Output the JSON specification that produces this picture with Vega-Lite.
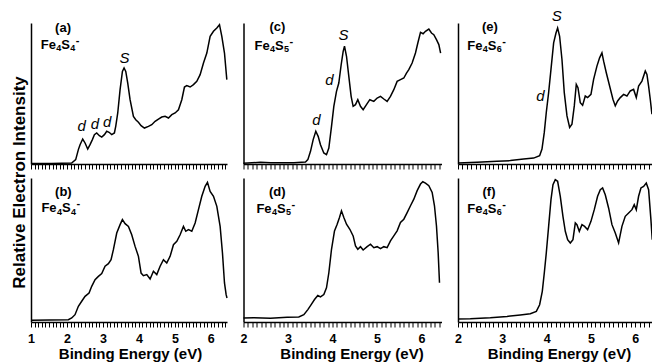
{
  "$schema": "https://vega.github.io/schema/vega-lite/v6.json",
  "padding": {"left": 10, "top": 9, "right": 0, "bottom": 0},
  "config": {
    "view": {"stroke": null},
    "font": "Liberation Sans",
    "axis": {
      "grid": false,
      "domainColor": "black",
      "domainWidth": 1.5,
      "tickColor": "black",
      "tickWidth": 1,
      "tickSize": 5,
      "labelColor": "black",
      "titleColor": "black",
      "labelFont": "Liberation Sans",
      "titleFont": "Liberation Sans",
      "labelFontWeight": "bold",
      "titleFontWeight": "bold",
      "labelFontSize": 12.5,
      "titleFontSize": 15
    },
    "axisX": {
      "ticks": true,
      "labelOverlap": false,
      "labelFlush": false,
      "labelPadding": 5,
      "titlePadding": 2,
      "encoding": {"ticks": {"y2": {"signal": "abs(datum.value - round(datum.value)) < 0.01 ? 5 : 3"}}}
    },
    "line": {"color": "black", "strokeWidth": 1.5},
    "text": {"color": "black"}
  },
  "bounds": "flush",
  "align": "each",
  "columns": 3,
  "spacing": {"row": 14, "column": 16.5},
  "datasets": {
    "a": [
      {"e":1.0,"i":0.004},{"e":1.575,"i":0.004},{"e":2.13,"i":0.007},{"e":2.243,"i":0.031},{"e":2.317,"i":0.102},{"e":2.364,"i":0.137},{"e":2.438,"i":0.177},{"e":2.503,"i":0.149},{"e":2.577,"i":0.106},{"e":2.642,"i":0.137},{"e":2.707,"i":0.173},{"e":2.763,"i":0.208},{"e":2.827,"i":0.22},{"e":2.902,"i":0.201},{"e":2.967,"i":0.191},{"e":3.041,"i":0.208},{"e":3.106,"i":0.232},{"e":3.171,"i":0.225},{"e":3.245,"i":0.208},{"e":3.319,"i":0.22},{"e":3.356,"i":0.267},{"e":3.412,"i":0.362},{"e":3.477,"i":0.527},{"e":3.542,"i":0.657},{"e":3.588,"i":0.681},{"e":3.635,"i":0.657},{"e":3.69,"i":0.574},{"e":3.755,"i":0.456},{"e":3.848,"i":0.338},{"e":3.913,"i":0.314},{"e":3.987,"i":0.296},{"e":4.061,"i":0.272},{"e":4.154,"i":0.255},{"e":4.265,"i":0.267},{"e":4.358,"i":0.279},{"e":4.451,"i":0.303},{"e":4.544,"i":0.319},{"e":4.636,"i":0.333},{"e":4.729,"i":0.338},{"e":4.822,"i":0.326},{"e":4.915,"i":0.35},{"e":5.007,"i":0.362},{"e":5.1,"i":0.385},{"e":5.193,"i":0.456},{"e":5.267,"i":0.546},{"e":5.332,"i":0.556},{"e":5.425,"i":0.546},{"e":5.518,"i":0.563},{"e":5.61,"i":0.586},{"e":5.703,"i":0.634},{"e":5.796,"i":0.716},{"e":5.889,"i":0.787},{"e":5.981,"i":0.905},{"e":6.074,"i":0.941},{"e":6.167,"i":0.965},{"e":6.241,"i":0.988},{"e":6.306,"i":0.905},{"e":6.38,"i":0.787},{"e":6.445,"i":0.598}
    ],
    "b": [
      {"e":1.0,"i":0.012},{"e":2.039,"i":0.016},{"e":2.132,"i":0.028},{"e":2.224,"i":0.051},{"e":2.317,"i":0.109},{"e":2.41,"i":0.144},{"e":2.503,"i":0.178},{"e":2.614,"i":0.201},{"e":2.688,"i":0.248},{"e":2.781,"i":0.294},{"e":2.874,"i":0.317},{"e":2.967,"i":0.336},{"e":3.059,"i":0.387},{"e":3.152,"i":0.405},{"e":3.226,"i":0.433},{"e":3.291,"i":0.502},{"e":3.384,"i":0.618},{"e":3.477,"i":0.676},{"e":3.542,"i":0.711},{"e":3.616,"i":0.683},{"e":3.709,"i":0.664},{"e":3.801,"i":0.606},{"e":3.894,"i":0.525},{"e":3.987,"i":0.456},{"e":4.061,"i":0.34},{"e":4.126,"i":0.322},{"e":4.219,"i":0.329},{"e":4.312,"i":0.299},{"e":4.404,"i":0.352},{"e":4.497,"i":0.329},{"e":4.59,"i":0.387},{"e":4.683,"i":0.433},{"e":4.775,"i":0.41},{"e":4.868,"i":0.456},{"e":4.961,"i":0.537},{"e":5.054,"i":0.56},{"e":5.146,"i":0.606},{"e":5.239,"i":0.664},{"e":5.304,"i":0.63},{"e":5.378,"i":0.641},{"e":5.471,"i":0.63},{"e":5.564,"i":0.688},{"e":5.656,"i":0.78},{"e":5.749,"i":0.873},{"e":5.842,"i":0.942},{"e":5.907,"i":0.97},{"e":5.981,"i":0.907},{"e":6.074,"i":0.873},{"e":6.167,"i":0.803},{"e":6.259,"i":0.664},{"e":6.324,"i":0.479},{"e":6.38,"i":0.271},{"e":6.426,"i":0.19},{"e":6.45,"i":0.167}
    ],
    "c": [
      {"e":2.0,"i":0.005},{"e":2.382,"i":0.012},{"e":2.607,"i":0.009},{"e":2.831,"i":0.009},{"e":3.131,"i":0.009},{"e":3.393,"i":0.014},{"e":3.446,"i":0.031},{"e":3.506,"i":0.09},{"e":3.566,"i":0.173},{"e":3.625,"i":0.232},{"e":3.678,"i":0.196},{"e":3.73,"i":0.137},{"e":3.805,"i":0.078},{"e":3.865,"i":0.066},{"e":3.918,"i":0.113},{"e":3.978,"i":0.267},{"e":4.03,"i":0.409},{"e":4.09,"i":0.515},{"e":4.142,"i":0.574},{"e":4.195,"i":0.704},{"e":4.24,"i":0.799},{"e":4.27,"i":0.835},{"e":4.315,"i":0.764},{"e":4.367,"i":0.622},{"e":4.419,"i":0.48},{"e":4.464,"i":0.409},{"e":4.517,"i":0.421},{"e":4.569,"i":0.456},{"e":4.629,"i":0.409},{"e":4.689,"i":0.385},{"e":4.764,"i":0.421},{"e":4.839,"i":0.456},{"e":4.929,"i":0.444},{"e":5.004,"i":0.468},{"e":5.079,"i":0.48},{"e":5.154,"i":0.461},{"e":5.228,"i":0.444},{"e":5.303,"i":0.48},{"e":5.378,"i":0.527},{"e":5.453,"i":0.586},{"e":5.528,"i":0.598},{"e":5.603,"i":0.61},{"e":5.663,"i":0.645},{"e":5.715,"i":0.669},{"e":5.79,"i":0.716},{"e":5.865,"i":0.787},{"e":5.918,"i":0.858},{"e":5.978,"i":0.934},{"e":6.037,"i":0.924},{"e":6.09,"i":0.941},{"e":6.165,"i":0.957},{"e":6.225,"i":0.929},{"e":6.277,"i":0.917},{"e":6.337,"i":0.882},{"e":6.39,"i":0.847},{"e":6.43,"i":0.787}
    ],
    "d": [
      {"e":2.0,"i":0.028},{"e":2.232,"i":0.03},{"e":2.607,"i":0.026},{"e":2.981,"i":0.033},{"e":3.243,"i":0.035},{"e":3.356,"i":0.051},{"e":3.446,"i":0.086},{"e":3.521,"i":0.121},{"e":3.596,"i":0.156},{"e":3.67,"i":0.184},{"e":3.73,"i":0.174},{"e":3.805,"i":0.191},{"e":3.865,"i":0.237},{"e":3.918,"i":0.342},{"e":3.978,"i":0.505},{"e":4.045,"i":0.633},{"e":4.105,"i":0.679},{"e":4.157,"i":0.726},{"e":4.202,"i":0.772},{"e":4.255,"i":0.726},{"e":4.315,"i":0.679},{"e":4.39,"i":0.644},{"e":4.464,"i":0.598},{"e":4.517,"i":0.528},{"e":4.569,"i":0.505},{"e":4.629,"i":0.523},{"e":4.689,"i":0.5},{"e":4.779,"i":0.523},{"e":4.854,"i":0.54},{"e":4.929,"i":0.516},{"e":5.004,"i":0.523},{"e":5.079,"i":0.509},{"e":5.154,"i":0.523},{"e":5.228,"i":0.516},{"e":5.303,"i":0.563},{"e":5.378,"i":0.598},{"e":5.453,"i":0.633},{"e":5.528,"i":0.691},{"e":5.603,"i":0.714},{"e":5.678,"i":0.76},{"e":5.753,"i":0.807},{"e":5.828,"i":0.853},{"e":5.903,"i":0.912},{"e":5.978,"i":0.958},{"e":6.03,"i":0.974},{"e":6.09,"i":0.965},{"e":6.165,"i":0.947},{"e":6.24,"i":0.9},{"e":6.292,"i":0.807},{"e":6.337,"i":0.667},{"e":6.375,"i":0.481},{"e":6.405,"i":0.272}
    ],
    "e": [
      {"e":2.0,"i":0.007},{"e":2.429,"i":0.012},{"e":2.88,"i":0.019},{"e":3.18,"i":0.024},{"e":3.481,"i":0.035},{"e":3.707,"i":0.042},{"e":3.842,"i":0.059},{"e":3.895,"i":0.106},{"e":3.947,"i":0.224},{"e":3.992,"i":0.365},{"e":4.045,"i":0.506},{"e":4.098,"i":0.671},{"e":4.158,"i":0.859},{"e":4.211,"i":0.929},{"e":4.248,"i":0.965},{"e":4.293,"i":0.906},{"e":4.346,"i":0.741},{"e":4.398,"i":0.506},{"e":4.459,"i":0.341},{"e":4.519,"i":0.259},{"e":4.571,"i":0.282},{"e":4.624,"i":0.412},{"e":4.669,"i":0.565},{"e":4.707,"i":0.541},{"e":4.759,"i":0.435},{"e":4.812,"i":0.416},{"e":4.872,"i":0.482},{"e":4.925,"i":0.471},{"e":5.0,"i":0.494},{"e":5.06,"i":0.6},{"e":5.135,"i":0.694},{"e":5.195,"i":0.753},{"e":5.248,"i":0.788},{"e":5.286,"i":0.729},{"e":5.346,"i":0.647},{"e":5.421,"i":0.553},{"e":5.496,"i":0.459},{"e":5.549,"i":0.412},{"e":5.602,"i":0.447},{"e":5.662,"i":0.471},{"e":5.737,"i":0.494},{"e":5.812,"i":0.482},{"e":5.887,"i":0.518},{"e":5.962,"i":0.529},{"e":6.023,"i":0.471},{"e":6.075,"i":0.553},{"e":6.15,"i":0.588},{"e":6.226,"i":0.659},{"e":6.263,"i":0.635},{"e":6.301,"i":0.553},{"e":6.338,"i":0.459},{"e":6.376,"i":0.353}
    ],
    "f": [
      {"e":2.0,"i":0.021},{"e":2.278,"i":0.023},{"e":2.729,"i":0.03},{"e":3.105,"i":0.039},{"e":3.406,"i":0.049},{"e":3.632,"i":0.058},{"e":3.767,"i":0.074},{"e":3.842,"i":0.12},{"e":3.902,"i":0.213},{"e":3.947,"i":0.34},{"e":3.992,"i":0.479},{"e":4.045,"i":0.664},{"e":4.098,"i":0.85},{"e":4.143,"i":0.954},{"e":4.195,"i":0.988},{"e":4.248,"i":0.977},{"e":4.308,"i":0.873},{"e":4.368,"i":0.734},{"e":4.421,"i":0.63},{"e":4.474,"i":0.572},{"e":4.534,"i":0.549},{"e":4.594,"i":0.572},{"e":4.647,"i":0.688},{"e":4.684,"i":0.676},{"e":4.737,"i":0.63},{"e":4.797,"i":0.676},{"e":4.857,"i":0.664},{"e":4.925,"i":0.641},{"e":5.0,"i":0.699},{"e":5.075,"i":0.78},{"e":5.15,"i":0.873},{"e":5.211,"i":0.919},{"e":5.263,"i":0.931},{"e":5.323,"i":0.884},{"e":5.398,"i":0.792},{"e":5.474,"i":0.676},{"e":5.549,"i":0.618},{"e":5.624,"i":0.549},{"e":5.699,"i":0.664},{"e":5.774,"i":0.734},{"e":5.85,"i":0.757},{"e":5.925,"i":0.78},{"e":5.977,"i":0.815},{"e":6.023,"i":0.78},{"e":6.075,"i":0.873},{"e":6.128,"i":0.931},{"e":6.188,"i":0.942},{"e":6.248,"i":0.965},{"e":6.301,"i":0.919},{"e":6.353,"i":0.711},{"e":6.383,"i":0.572}
    ]
  },
  "concat": [
    {
      "width": 196, "height": 141,
      "encoding": {
        "x": {"field": "e", "type": "quantitative", "scale": {"domain": [1, 6.45], "nice": false, "zero": false},
          "axis": {"title": null, "labels": false, "ticks": true, "values": [1,1.1,1.2,1.3,1.4,1.5,1.6,1.7,1.8,1.9,2,2.1,2.2,2.3,2.4,2.5,2.6,2.7,2.8,2.9,3,3.1,3.2,3.3,3.4,3.5,3.6,3.7,3.8,3.9,4,4.1,4.2,4.3,4.4,4.5,4.6,4.7,4.8,4.9,5,5.1,5.2,5.3,5.4,5.5,5.6,5.7,5.8,5.9,6,6.1,6.2,6.3,6.4]}},
        "y": {"field": "i", "type": "quantitative", "scale": {"domain": [0, 1], "nice": false},
          "axis": {"title": "Relative Electron Intensity", "titleFontSize": 17, "ticks": false, "labels": false, "titleY": 159, "titlePadding": 3}}
      },
      "layer": [
        {"data": {"name": "a"}, "mark": {"type": "line"}},
        {
          "data": {"values": [{"e": 2.41, "i": 0.267, "t": "d"}, {"e": 2.78, "i": 0.286, "t": "d"}, {"e": 3.12, "i": 0.296, "t": "d"}, {"e": 3.6, "i": 0.752, "t": "S"}]},
          "mark": {"type": "text", "fontStyle": "italic", "fontSize": 15, "baseline": "middle"},
          "encoding": {"text": {"field": "t"}}
        },
        {
          "data": {"values": [{"e": 1.89, "i": 0.967, "t": "(a)"}]},
          "mark": {"type": "text", "fontWeight": "bold", "fontSize": 13, "baseline": "middle"},
          "encoding": {"text": {"field": "t"}}
        },
        {
          "data": {"values": [{"e": 1.27, "i": 0.845, "n1": "4", "n2": "4"}]},
          "layer": [
            {"mark": {"type": "text", "fontWeight": "bold", "fontSize": 13, "baseline": "middle", "align": "left", "text": "Fe"}},
            {"mark": {"type": "text", "fontWeight": "bold", "fontSize": 9, "baseline": "middle", "align": "left", "dx": 15.5, "dy": 3.5}, "encoding": {"text": {"field": "n1"}}},
            {"mark": {"type": "text", "fontWeight": "bold", "fontSize": 13, "baseline": "middle", "align": "left", "dx": 20.5, "text": "S"}},
            {"mark": {"type": "text", "fontWeight": "bold", "fontSize": 9, "baseline": "middle", "align": "left", "dx": 29.5, "dy": 3.5}, "encoding": {"text": {"field": "n2"}}},
            {"mark": {"type": "text", "fontWeight": "bold", "fontSize": 11, "baseline": "middle", "align": "left", "dx": 35, "dy": -4, "text": "-"}}
          ]
        }
      ]
    },
    {
      "width": 198, "height": 141,
      "encoding": {
        "x": {"field": "e", "type": "quantitative", "scale": {"domain": [2, 6.45], "nice": false, "zero": false},
          "axis": {"title": null, "labels": false, "ticks": true, "values": [2,2.1,2.2,2.3,2.4,2.5,2.6,2.7,2.8,2.9,3,3.1,3.2,3.3,3.4,3.5,3.6,3.7,3.8,3.9,4,4.1,4.2,4.3,4.4,4.5,4.6,4.7,4.8,4.9,5,5.1,5.2,5.3,5.4,5.5,5.6,5.7,5.8,5.9,6,6.1,6.2,6.3,6.4]}},
        "y": {"field": "i", "type": "quantitative", "scale": {"domain": [0, 1], "nice": false},
          "axis": {"title": null, "ticks": false, "labels": false}}
      },
      "layer": [
        {"data": {"name": "c"}, "mark": {"type": "line"}},
        {
          "data": {"values": [{"e": 3.64, "i": 0.31, "t": "d"}, {"e": 3.93, "i": 0.593, "t": "d"}, {"e": 4.25, "i": 0.917, "t": "S"}]},
          "mark": {"type": "text", "fontStyle": "italic", "fontSize": 15, "baseline": "middle"},
          "encoding": {"text": {"field": "t"}}
        },
        {
          "data": {"values": [{"e": 2.76, "i": 0.97, "t": "(c)"}]},
          "mark": {"type": "text", "fontWeight": "bold", "fontSize": 13, "baseline": "middle"},
          "encoding": {"text": {"field": "t"}}
        },
        {
          "data": {"values": [{"e": 2.25, "i": 0.84, "n1": "4", "n2": "5"}]},
          "layer": [
            {"mark": {"type": "text", "fontWeight": "bold", "fontSize": 13, "baseline": "middle", "align": "left", "text": "Fe"}},
            {"mark": {"type": "text", "fontWeight": "bold", "fontSize": 9, "baseline": "middle", "align": "left", "dx": 15.5, "dy": 3.5}, "encoding": {"text": {"field": "n1"}}},
            {"mark": {"type": "text", "fontWeight": "bold", "fontSize": 13, "baseline": "middle", "align": "left", "dx": 20.5, "text": "S"}},
            {"mark": {"type": "text", "fontWeight": "bold", "fontSize": 9, "baseline": "middle", "align": "left", "dx": 29.5, "dy": 3.5}, "encoding": {"text": {"field": "n2"}}},
            {"mark": {"type": "text", "fontWeight": "bold", "fontSize": 11, "baseline": "middle", "align": "left", "dx": 35, "dy": -4, "text": "-"}}
          ]
        }
      ]
    },
    {
      "width": 195, "height": 141,
      "encoding": {
        "x": {"field": "e", "type": "quantitative", "scale": {"domain": [2, 6.4], "nice": false, "zero": false},
          "axis": {"title": null, "labels": false, "ticks": true, "values": [2,2.1,2.2,2.3,2.4,2.5,2.6,2.7,2.8,2.9,3,3.1,3.2,3.3,3.4,3.5,3.6,3.7,3.8,3.9,4,4.1,4.2,4.3,4.4,4.5,4.6,4.7,4.8,4.9,5,5.1,5.2,5.3,5.4,5.5,5.6,5.7,5.8,5.9,6,6.1,6.2,6.3,6.4]}},
        "y": {"field": "i", "type": "quantitative", "scale": {"domain": [0, 1], "nice": false},
          "axis": {"title": null, "ticks": false, "labels": false}}
      },
      "layer": [
        {"data": {"name": "e"}, "mark": {"type": "line"}},
        {
          "data": {"values": [{"e": 3.86, "i": 0.482, "t": "d"}, {"e": 4.23, "i": 1.047, "t": "S"}]},
          "mark": {"type": "text", "fontStyle": "italic", "fontSize": 15, "baseline": "middle"},
          "encoding": {"text": {"field": "t"}}
        },
        {
          "data": {"values": [{"e": 2.72, "i": 0.97, "t": "(e)"}]},
          "mark": {"type": "text", "fontWeight": "bold", "fontSize": 13, "baseline": "middle"},
          "encoding": {"text": {"field": "t"}}
        },
        {
          "data": {"values": [{"e": 2.21, "i": 0.84, "n1": "4", "n2": "6"}]},
          "layer": [
            {"mark": {"type": "text", "fontWeight": "bold", "fontSize": 13, "baseline": "middle", "align": "left", "text": "Fe"}},
            {"mark": {"type": "text", "fontWeight": "bold", "fontSize": 9, "baseline": "middle", "align": "left", "dx": 15.5, "dy": 3.5}, "encoding": {"text": {"field": "n1"}}},
            {"mark": {"type": "text", "fontWeight": "bold", "fontSize": 13, "baseline": "middle", "align": "left", "dx": 20.5, "text": "S"}},
            {"mark": {"type": "text", "fontWeight": "bold", "fontSize": 9, "baseline": "middle", "align": "left", "dx": 29.5, "dy": 3.5}, "encoding": {"text": {"field": "n2"}}},
            {"mark": {"type": "text", "fontWeight": "bold", "fontSize": 11, "baseline": "middle", "align": "left", "dx": 35, "dy": -4, "text": "-"}}
          ]
        }
      ]
    },
    {
      "width": 196, "height": 144,
      "encoding": {
        "x": {"field": "e", "type": "quantitative", "scale": {"domain": [1, 6.45], "nice": false, "zero": false},
          "axis": {"title": "Binding Energy (eV)", "titleX": 99,
            "labelExpr": "abs(datum.value - round(datum.value)) < 0.01 ? format(datum.value, 'd') : ''",
            "values": [1,1.1,1.2,1.3,1.4,1.5,1.6,1.7,1.8,1.9,2,2.1,2.2,2.3,2.4,2.5,2.6,2.7,2.8,2.9,3,3.1,3.2,3.3,3.4,3.5,3.6,3.7,3.8,3.9,4,4.1,4.2,4.3,4.4,4.5,4.6,4.7,4.8,4.9,5,5.1,5.2,5.3,5.4,5.5,5.6,5.7,5.8,5.9,6,6.1,6.2,6.3,6.4]}},
        "y": {"field": "i", "type": "quantitative", "scale": {"domain": [0, 1], "nice": false},
          "axis": {"title": null, "ticks": false, "labels": false}}
      },
      "layer": [
        {"data": {"name": "b"}, "mark": {"type": "line"}},
        {
          "data": {"values": [{"e": 1.9, "i": 0.901, "t": "(b)"}]},
          "mark": {"type": "text", "fontWeight": "bold", "fontSize": 13, "baseline": "middle"},
          "encoding": {"text": {"field": "t"}}
        },
        {
          "data": {"values": [{"e": 1.29, "i": 0.79, "n1": "4", "n2": "4"}]},
          "layer": [
            {"mark": {"type": "text", "fontWeight": "bold", "fontSize": 13, "baseline": "middle", "align": "left", "text": "Fe"}},
            {"mark": {"type": "text", "fontWeight": "bold", "fontSize": 9, "baseline": "middle", "align": "left", "dx": 15.5, "dy": 3.5}, "encoding": {"text": {"field": "n1"}}},
            {"mark": {"type": "text", "fontWeight": "bold", "fontSize": 13, "baseline": "middle", "align": "left", "dx": 20.5, "text": "S"}},
            {"mark": {"type": "text", "fontWeight": "bold", "fontSize": 9, "baseline": "middle", "align": "left", "dx": 29.5, "dy": 3.5}, "encoding": {"text": {"field": "n2"}}},
            {"mark": {"type": "text", "fontWeight": "bold", "fontSize": 11, "baseline": "middle", "align": "left", "dx": 35, "dy": -4, "text": "-"}}
          ]
        }
      ]
    },
    {
      "width": 198, "height": 144,
      "encoding": {
        "x": {"field": "e", "type": "quantitative", "scale": {"domain": [2, 6.45], "nice": false, "zero": false},
          "axis": {"title": "Binding Energy (eV)", "titleX": 108,
            "labelExpr": "abs(datum.value - round(datum.value)) < 0.01 ? format(datum.value, 'd') : ''",
            "values": [2,2.1,2.2,2.3,2.4,2.5,2.6,2.7,2.8,2.9,3,3.1,3.2,3.3,3.4,3.5,3.6,3.7,3.8,3.9,4,4.1,4.2,4.3,4.4,4.5,4.6,4.7,4.8,4.9,5,5.1,5.2,5.3,5.4,5.5,5.6,5.7,5.8,5.9,6,6.1,6.2,6.3,6.4]}},
        "y": {"field": "i", "type": "quantitative", "scale": {"domain": [0, 1], "nice": false},
          "axis": {"title": null, "ticks": false, "labels": false}}
      },
      "layer": [
        {"data": {"name": "d"}, "mark": {"type": "line"}},
        {
          "data": {"values": [{"e": 2.76, "i": 0.901, "t": "(d)"}]},
          "mark": {"type": "text", "fontWeight": "bold", "fontSize": 13, "baseline": "middle"},
          "encoding": {"text": {"field": "t"}}
        },
        {
          "data": {"values": [{"e": 2.29, "i": 0.785, "n1": "4", "n2": "5"}]},
          "layer": [
            {"mark": {"type": "text", "fontWeight": "bold", "fontSize": 13, "baseline": "middle", "align": "left", "text": "Fe"}},
            {"mark": {"type": "text", "fontWeight": "bold", "fontSize": 9, "baseline": "middle", "align": "left", "dx": 15.5, "dy": 3.5}, "encoding": {"text": {"field": "n1"}}},
            {"mark": {"type": "text", "fontWeight": "bold", "fontSize": 13, "baseline": "middle", "align": "left", "dx": 20.5, "text": "S"}},
            {"mark": {"type": "text", "fontWeight": "bold", "fontSize": 9, "baseline": "middle", "align": "left", "dx": 29.5, "dy": 3.5}, "encoding": {"text": {"field": "n2"}}},
            {"mark": {"type": "text", "fontWeight": "bold", "fontSize": 11, "baseline": "middle", "align": "left", "dx": 35, "dy": -4, "text": "-"}}
          ]
        }
      ]
    },
    {
      "width": 195, "height": 144,
      "encoding": {
        "x": {"field": "e", "type": "quantitative", "scale": {"domain": [2, 6.4], "nice": false, "zero": false},
          "axis": {"title": "Binding Energy (eV)", "titleX": 101,
            "labelExpr": "abs(datum.value - round(datum.value)) < 0.01 ? format(datum.value, 'd') : ''",
            "values": [2,2.1,2.2,2.3,2.4,2.5,2.6,2.7,2.8,2.9,3,3.1,3.2,3.3,3.4,3.5,3.6,3.7,3.8,3.9,4,4.1,4.2,4.3,4.4,4.5,4.6,4.7,4.8,4.9,5,5.1,5.2,5.3,5.4,5.5,5.6,5.7,5.8,5.9,6,6.1,6.2,6.3,6.4]}},
        "y": {"field": "i", "type": "quantitative", "scale": {"domain": [0, 1], "nice": false},
          "axis": {"title": null, "ticks": false, "labels": false}}
      },
      "layer": [
        {"data": {"name": "f"}, "mark": {"type": "line"}},
        {
          "data": {"values": [{"e": 2.7, "i": 0.901, "t": "(f)"}]},
          "mark": {"type": "text", "fontWeight": "bold", "fontSize": 13, "baseline": "middle"},
          "encoding": {"text": {"field": "t"}}
        },
        {
          "data": {"values": [{"e": 2.21, "i": 0.785, "n1": "4", "n2": "6"}]},
          "layer": [
            {"mark": {"type": "text", "fontWeight": "bold", "fontSize": 13, "baseline": "middle", "align": "left", "text": "Fe"}},
            {"mark": {"type": "text", "fontWeight": "bold", "fontSize": 9, "baseline": "middle", "align": "left", "dx": 15.5, "dy": 3.5}, "encoding": {"text": {"field": "n1"}}},
            {"mark": {"type": "text", "fontWeight": "bold", "fontSize": 13, "baseline": "middle", "align": "left", "dx": 20.5, "text": "S"}},
            {"mark": {"type": "text", "fontWeight": "bold", "fontSize": 9, "baseline": "middle", "align": "left", "dx": 29.5, "dy": 3.5}, "encoding": {"text": {"field": "n2"}}},
            {"mark": {"type": "text", "fontWeight": "bold", "fontSize": 11, "baseline": "middle", "align": "left", "dx": 35, "dy": -4, "text": "-"}}
          ]
        }
      ]
    }
  ]
}
